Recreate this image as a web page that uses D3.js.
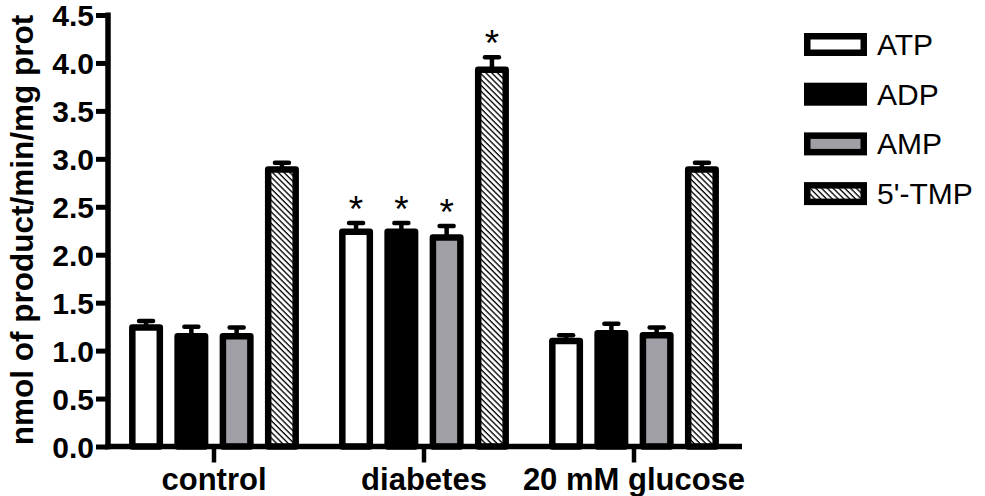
<!DOCTYPE html>
<html>
<head>
<meta charset="utf-8">
<script src="https://cdn.jsdelivr.net/npm/d3@7/dist/d3.min.js"></script>
<style>
  html, body { margin: 0; padding: 0; background: #fff; }
  svg { display: block; font-family: "Liberation Sans", Arial, Helvetica, sans-serif; }
</style>
</head>
<body>
<svg id="chart" width="985" height="496"></svg>
<script>
// Nucleotide hydrolysis rates per condition (mean and SEM)
const groups = ["control", "diabetes", "20 mM glucose"];
const seriesNames = ["ATP", "ADP", "AMP", "5'-TMP"];
const atpValues = [1.24, 2.24, 1.10];
const atpErrors = [0.07, 0.09, 0.06];
const adpValues = [1.15, 2.24, 1.18];
const adpErrors = [0.10, 0.09, 0.10];
const ampValues = [1.15, 2.18, 1.16];
const ampErrors = [0.09, 0.12, 0.08];
const tmpValues = [2.89, 3.93, 2.89];
const tmpErrors = [0.07, 0.13, 0.07];
// significance markers (group, series)
const significant = [["diabetes", "ATP"], ["diabetes", "ADP"], ["diabetes", "AMP"], ["diabetes", "5'-TMP"]];
const yTicks = [0, 0.5, 1.0, 1.5, 2.0, 2.5, 3.0, 3.5, 4.0, 4.5];
const yTitle = "nmol of product/min/mg prot";

const valuesBySeries = [atpValues, adpValues, ampValues, tmpValues];
const errorsBySeries = [atpErrors, adpErrors, ampErrors, tmpErrors];
const rows = [];
groups.forEach((g, gi) => seriesNames.forEach((s, si) => {
  rows.push({ group: g, series: s, value: valuesBySeries[si][gi], err: errorsBySeries[si][gi] });
}));

const svg = d3.select("#chart");
const defs = svg.append("defs");
defs.append("pattern")
  .attr("id", "hatch")
  .attr("patternUnits", "userSpaceOnUse")
  .attr("width", 4.1).attr("height", 10)
  .attr("patternTransform", "rotate(-45)")
  .call(p => {
    p.append("rect").attr("width", 4.1).attr("height", 10).attr("fill", "#fff");
    p.append("line").attr("x1", 1).attr("x2", 1).attr("y1", -1).attr("y2", 11)
      .attr("stroke", "#000").attr("stroke-width", 1.35);
  });

const fills = { "ATP": "#ffffff", "ADP": "#000000", "AMP": "#a09fa6", "5'-TMP": "url(#hatch)" };

const axisX0 = 108, axisX1 = 742;
const y = d3.scaleLinear().domain([0, 4.5]).range([446.5, 15]);
const x0 = d3.scaleBand().domain(groups).range([109, 739]).padding(0);
const x1 = d3.scaleBand().domain(seriesNames).range([0, x0.bandwidth()])
  .paddingInner(0.393).paddingOuter(0.515);

const barStroke = 6.5;

// bars
const bars = svg.append("g");
bars.selectAll("rect").data(rows).join("rect")
  .attr("x", d => x0(d.group) + x1(d.series))
  .attr("y", d => y(d.value))
  .attr("width", x1.bandwidth())
  .attr("height", d => y(0) - y(d.value))
  .attr("fill", d => fills[d.series])
  .attr("stroke", "#000")
  .attr("stroke-width", barStroke)
  .attr("stroke-linejoin", "round");

// error bars (upper half)
const eb = svg.append("g").attr("stroke", "#000").attr("stroke-width", 4.5);
rows.forEach(d => {
  const cx = x0(d.group) + x1(d.series) + x1.bandwidth() / 2;
  eb.append("line").attr("x1", cx).attr("x2", cx)
    .attr("y1", y(d.value)).attr("y2", y(d.value + d.err));
  eb.append("line").attr("x1", cx - 7).attr("x2", cx + 7)
    .attr("y1", y(d.value + d.err)).attr("y2", y(d.value + d.err))
    .attr("stroke-linecap", "round");
});

// significance asterisks
significant.forEach(([g, s]) => {
  const d = rows.find(r => r.group === g && r.series === s);
  const cx = x0(g) + x1(s) + x1.bandwidth() / 2;
  svg.append("text")
    .attr("x", cx).attr("y", y(d.value + d.err) - 1)
    .attr("text-anchor", "middle")
    .attr("font-size", 37)
    .text("*");
});

// y axis
const yAxis = d3.axisLeft(y).tickValues(yTicks).tickFormat(d3.format(".1f")).tickSize(12).tickPadding(2);
const gy = svg.append("g").attr("transform", `translate(${axisX0},0)`).call(yAxis);
gy.select(".domain").remove();
gy.selectAll(".tick line").attr("stroke", "#000").attr("stroke-width", 5);
gy.selectAll(".tick text").attr("font-size", 30).attr("font-weight", "bold").attr("fill", "#000")
  .attr("font-family", "Liberation Sans, Arial, sans-serif").attr("dy", "0.36em");
svg.append("line").attr("x1", axisX0).attr("x2", axisX0)
  .attr("y1", y(4.5) - 2.5).attr("y2", y(0) + 2.75)
  .attr("stroke", "#000").attr("stroke-width", 5.5);

// x axis
const xAxis = d3.axisBottom(x0).tickSize(16).tickPadding(0);
const gx = svg.append("g").attr("transform", `translate(0,${y(0)})`).call(xAxis);
gx.select(".domain").remove();
gx.selectAll(".tick line").attr("stroke", "#000").attr("stroke-width", 4.5);
gx.selectAll(".tick text").remove();
svg.append("line").attr("x1", axisX0 - 2.75).attr("x2", axisX1)
  .attr("y1", y(0)).attr("y2", y(0))
  .attr("stroke", "#000").attr("stroke-width", 5.5);
svg.append("g").selectAll("text").data(groups).join("text")
  .attr("x", d => x0(d) + x0.bandwidth() / 2)
  .attr("y", 490)
  .attr("text-anchor", "middle")
  .attr("font-size", 31)
  .attr("font-weight", "bold")
  .text(d => d);

// y title
svg.append("text")
  .attr("transform", `translate(33,${(12 + 448) / 2}) rotate(-90)`)
  .attr("text-anchor", "middle")
  .attr("font-size", 31.5)
  .attr("font-weight", "bold")
  .text(yTitle);

// legend
const legend = svg.append("g");
seriesNames.forEach((s, i) => {
  const cy = 44.5 + i * 49.7;
  legend.append("rect")
    .attr("x", 807.25).attr("y", cy - 8.25)
    .attr("width", 56.5).attr("height", 16.5)
    .attr("fill", fills[s]).attr("stroke", "#000").attr("stroke-width", 6.5);
  legend.append("text")
    .attr("x", 877).attr("y", cy + 10.5)
    .attr("font-size", 30)
    .text(s);
});
</script>
</body>
</html>
